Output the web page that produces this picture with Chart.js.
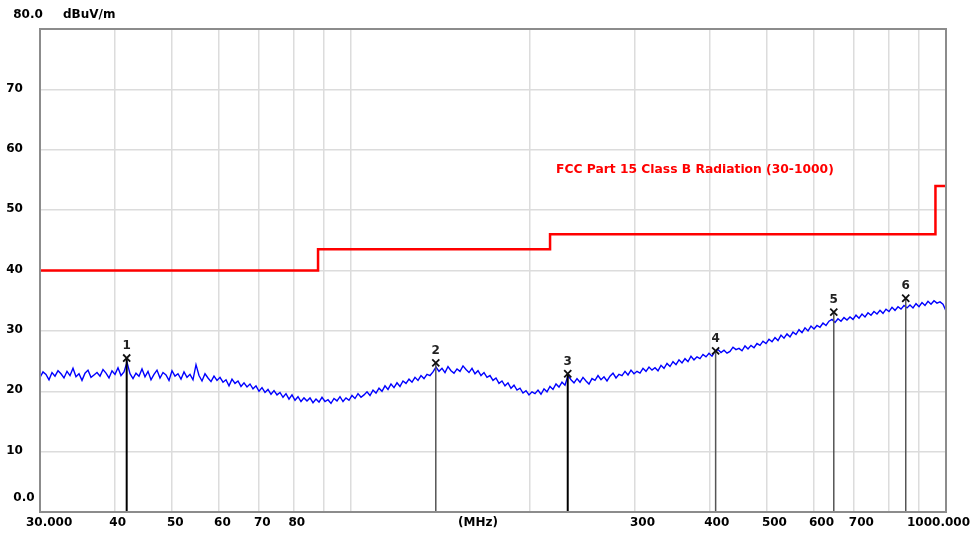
<!DOCTYPE html>
<html><head><meta charset="utf-8">
<script src="https://cdn.jsdelivr.net/npm/chart.js@4/dist/chart.umd.min.js"></script>
<style>html,body{margin:0;padding:0;background:#fff;}canvas{display:block}</style>
</head><body>
<canvas id="c" width="974" height="536"></canvas>
<script>
// ---- data ----
const sweepStartMHz = 30;
const sweepStopMHz = 1000;
const traceLevels = [
22.3,23.2,22.8,21.9,23.1,22.5,23.4,22.9,22.2,23.3,
22.6,23.8,22.4,22.9,21.8,23.0,23.5,22.3,22.7,23.1,
22.5,23.6,23.0,22.2,23.4,22.8,23.9,22.6,23.2,24.8,
22.9,22.1,23.0,22.5,23.7,22.4,23.3,21.9,22.8,23.5,
22.2,23.1,22.7,21.8,23.4,22.5,22.9,22.0,23.2,22.3,
22.8,21.9,24.4,22.6,21.7,22.9,22.2,21.6,22.5,21.8,
22.3,21.5,21.9,20.9,22.0,21.3,21.7,20.8,21.4,20.7,
21.2,20.4,20.9,20.0,20.6,19.8,20.3,19.5,20.1,19.4,
19.8,19.0,19.6,18.7,19.4,18.5,19.1,18.3,18.9,18.4,
18.9,18.1,18.7,18.2,19.0,18.3,18.6,18.0,18.8,18.4,
19.1,18.3,18.9,18.5,19.3,18.8,19.6,19.0,19.4,19.9,
19.3,20.2,19.7,20.5,20.0,20.9,20.3,21.2,20.6,21.4,
20.8,21.7,21.3,22.0,21.5,22.3,21.8,22.6,22.1,22.8,
22.6,23.2,24.0,23.3,23.8,23.1,24.1,23.4,23.0,23.7,
23.3,24.2,23.6,23.1,23.8,22.9,23.4,22.6,23.1,22.3,
22.6,21.8,22.2,21.3,21.7,20.9,21.4,20.5,21.0,20.2,
20.5,19.7,20.1,19.4,19.9,19.6,20.2,19.5,20.4,19.9,
20.8,20.3,21.2,20.7,21.5,21.0,22.6,21.9,21.4,22.1,
21.5,22.3,21.7,21.2,22.1,21.8,22.6,21.9,22.4,21.7,
22.5,23.0,22.2,22.8,22.6,23.3,22.7,23.5,22.9,23.3,
23.0,23.8,23.3,24.0,23.5,23.9,23.4,24.3,23.8,24.6,
24.1,24.9,24.4,25.2,24.7,25.4,24.9,25.8,25.2,25.7,
25.4,26.1,25.7,26.3,25.8,26.6,26.9,26.4,26.8,26.3,
26.6,27.3,26.9,27.1,26.7,27.5,27.0,27.6,27.2,27.9,
27.6,28.3,27.9,28.6,28.2,28.9,28.4,29.3,28.8,29.5,
29.0,29.8,29.4,30.2,29.7,30.5,30.0,30.8,30.3,30.9,
30.6,31.3,30.9,31.6,31.9,31.4,32.0,31.6,32.2,31.8,
32.3,31.9,32.6,32.1,32.8,32.3,33.0,32.6,33.2,32.8,
33.4,32.9,33.6,33.2,33.9,33.4,34.0,33.6,34.2,33.8,
34.3,33.8,34.5,34.0,34.7,34.2,34.9,34.4,35.0,34.6,
34.8,34.4,33.3
];
const limitFreqs = [30, 88, 216, 960, 1000];
const limitLevels = [40, 43.5, 46, 54, 54];
const markerNames = ['1', '2', '3', '4', '5', '6'];
const markerFreqs = [41.96, 138.8, 231.3, 410.0, 647.7, 855.7];
const markerLevels = [25.5, 24.7, 22.9, 26.7, 33.1, 35.4];
const xGridFreqs = [30, 40, 50, 60, 70, 80, 90, 100, 200, 300, 400, 500, 600, 700, 800, 900, 1000];
const xLabelFreqs = [30, 40, 50, 60, 70, 80, 300, 400, 500, 600, 700, 1000];
const xLabelTexts = ['30.000', '40', '50', '60', '70', '80', '300', '400', '500', '600', '700', '1000.000'];
const yTickValues = [0, 10, 20, 30, 40, 50, 60, 70, 80];
const yTickTexts = ['0.0', '10', '20', '30', '40', '50', '60', '70', '80.0'];
const yUnitText = 'dBuV/m';
const xUnitText = '(MHz)';
const limitName = 'FCC Part 15 Class B Radiation (30-1000)';

// ---- build datasets ----
const n = traceLevels.length;
const tracePoints = traceLevels.map((v, i) => ({
  x: sweepStartMHz * Math.pow(sweepStopMHz / sweepStartMHz, i / (n - 1)), y: v }));
const limitPoints = limitFreqs.map((f, i) => ({ x: f, y: limitLevels[i] }));
const markerPoints = markerFreqs.map((f, i) => ({ x: f, y: markerLevels[i] }));

const datasets = [
  { label: 'markers', data: markerPoints, showLine: false, pointStyle: 'crossRot',
    pointRadius: 5, pointBorderWidth: 1.8, pointBorderColor: '#111', pointBackgroundColor: '#111', order: 1 },
];
markerFreqs.forEach((f, i) => {
  const dark = (i === 0 || i === 2);
  datasets.push({ label: 'mline' + i, data: [{ x: f, y: 0 }, { x: f, y: markerLevels[i] }],
    borderColor: dark ? '#000' : '#555', borderWidth: dark ? 2 : 1.5, pointRadius: 0, order: 2 });
});
datasets.push({ label: 'trace', data: tracePoints, borderColor: '#0000ff', borderWidth: 1.4,
  pointRadius: 0, tension: 0, order: 3 });
datasets.push({ label: 'limit', data: limitPoints, stepped: true, borderColor: '#ff0000',
  borderWidth: 2.5, pointRadius: 0, order: 4 });

const textPlugin = {
  id: 'texts',
  afterDatasetsDraw(chart) {
    const ctx = chart.ctx, a = chart.chartArea;
    ctx.save();
    ctx.strokeStyle = '#8c8c8c';
    ctx.lineWidth = 2;
    ctx.strokeRect(a.left, a.top, a.right - a.left, a.bottom - a.top);
    ctx.restore();
  },
  afterDraw(chart) {
    const ctx = chart.ctx, a = chart.chartArea;
    const xs = chart.scales.x, ys = chart.scales.y;
    ctx.save();
    ctx.fillStyle = '#000';
    ctx.font = 'bold 12px "DejaVu Sans"';
    ctx.textBaseline = 'middle';
    yTickValues.forEach((v, i) => {
      const py = ys.getPixelForValue(v);
      ctx.textAlign = 'center';
      if (i === 0) ctx.fillText(yTickTexts[i], 24, py - 14);
      else if (i === yTickValues.length - 1) ctx.fillText(yTickTexts[i], 28, py - 14);
      else ctx.fillText(yTickTexts[i], 14.5, py - 1);
    });
    ctx.textAlign = 'left';
    ctx.fillText(yUnitText, 63, ys.getPixelForValue(80) - 14);
    const ly = a.bottom + 11;
    xLabelFreqs.forEach((f, i) => {
      const px = xs.getPixelForValue(f);
      if (i === 0) { ctx.textAlign = 'left'; ctx.fillText(xLabelTexts[i], px - 14, ly); }
      else if (i === xLabelFreqs.length - 1) { ctx.textAlign = 'right'; ctx.fillText(xLabelTexts[i], px + 24, ly); }
      else { ctx.textAlign = 'left'; ctx.fillText(xLabelTexts[i], px - 5, ly); }
    });
    ctx.textAlign = 'center';
    ctx.fillText(xUnitText, 478, ly);
    ctx.font = 'bold 12px "DejaVu Sans"';
    ctx.fillStyle = '#222';
    markerFreqs.forEach((f, i) => {
      ctx.fillText(markerNames[i], xs.getPixelForValue(f), ys.getPixelForValue(markerLevels[i]) - 12);
    });
    ctx.fillStyle = '#ff0000';
    ctx.font = 'bold 12.3px "DejaVu Sans"';
    ctx.textAlign = 'left';
    ctx.fillText(limitName, 556, 170);
    ctx.restore();
  }
};

new Chart(document.getElementById('c'), {
  type: 'line',
  data: { datasets },
  options: {
    responsive: false,
    animation: false,
    events: [],
    layout: { padding: { left: 40, right: 28, top: 29, bottom: 24 } },
    plugins: { legend: { display: false }, tooltip: { enabled: false } },
    scales: {
      x: {
        type: 'logarithmic', min: sweepStartMHz, max: sweepStopMHz,
        afterBuildTicks: s => { s.ticks = xGridFreqs.map(v => ({ value: v })); },
        ticks: { display: false },
        grid: { color: '#dcdcdc', lineWidth: 1.5, drawTicks: false },
        border: { display: false }
      },
      y: {
        type: 'linear', min: 0, max: 80,
        afterBuildTicks: s => { s.ticks = yTickValues.map(v => ({ value: v })); },
        ticks: { display: false },
        grid: { color: '#dcdcdc', lineWidth: 1.5, drawTicks: false },
        border: { display: false }
      }
    }
  },
  plugins: [textPlugin]
});
</script>
</body></html>
